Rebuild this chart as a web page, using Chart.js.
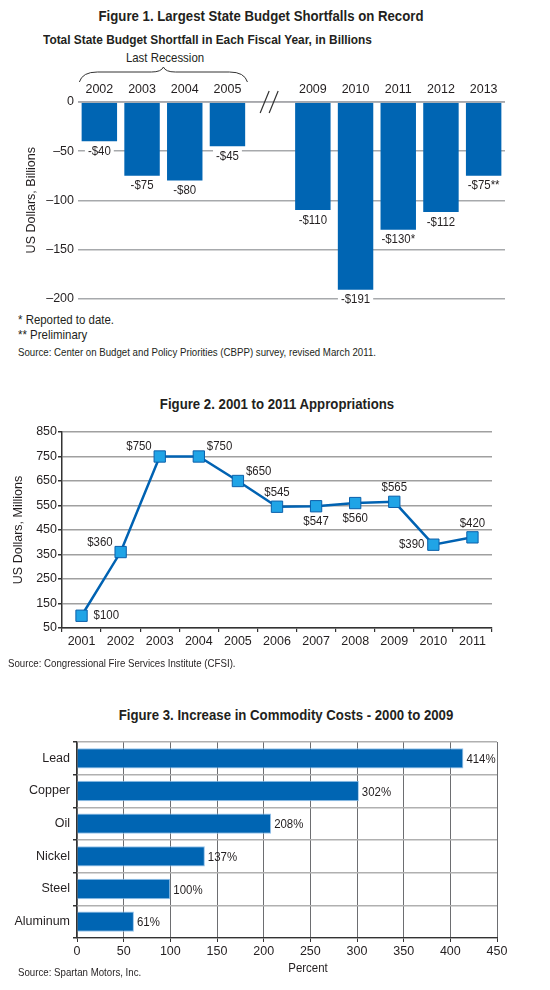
<!DOCTYPE html>
<html>
<head>
<meta charset="utf-8">
<script src="https://cdn.jsdelivr.net/npm/chart.js@4.4.1/dist/chart.umd.min.js"></script>
<style>
  body { margin: 0; background: #fff; }
  #page { position: relative; width: 550px; height: 990px; overflow: hidden;
          font-family: 'Liberation Sans Narrow', 'Liberation Sans', Arial, sans-serif; color: #231f20; }
  canvas { position: absolute; left: 0; }
  .t { position: absolute; white-space: nowrap; line-height: 20px; height: 20px;
       transform: scaleX(0.88); transform-origin: left center; }
  .b { font-weight: bold; }
  .c { transform: translateX(-50%) scaleX(0.88); transform-origin: center center; }
</style>
</head>
<body>
<div id="page">
  <div class="t b c" style="left:261px; top:6px; font-size:15px;">Figure 1. Largest State Budget Shortfalls on Record</div>
  <div class="t b" style="left:43px; top:30px; font-size:13.5px;">Total State Budget Shortfall in Each Fiscal Year, in Billions</div>
  <div class="t c" style="left:165px; top:48px; font-size:13px;">Last Recession</div>
  <canvas id="fig1" width="550" height="310" style="top:0px"></canvas>
  <div class="t" style="left:18px; top:310px; font-size:13px;">* Reported to date.</div>
  <div class="t" style="left:18px; top:325px; font-size:13px;">** Preliminary</div>
  <div class="t" style="left:18px; top:342px; font-size:11px;">Source: Center on Budget and Policy Priorities (CBPP) survey, revised March 2011.</div>

  <div class="t b c" style="left:277px; top:394px; font-size:15px;">Figure 2. 2001 to 2011 Appropriations</div>
  <canvas id="fig2" width="550" height="240" style="top:415px"></canvas>
  <div class="t" style="left:8px; top:653px; font-size:11px;">Source: Congressional Fire Services Institute (CFSI).</div>

  <div class="t b c" style="left:286px; top:705px; font-size:15px;">Figure 3. Increase in Commodity Costs - 2000 to 2009</div>
  <canvas id="fig3" width="550" height="260" style="top:730px"></canvas>
  <div class="t c" style="left:308px; top:958px; font-size:13px;">Percent</div>
  <div class="t" style="left:18px; top:962px; font-size:11px;">Source: Spartan Motors, Inc.</div>
</div>
<script>
const FONT = "'Liberation Sans Narrow', 'Liberation Sans', Arial, sans-serif";
const BLUE = 'rgb(0, 101, 179)';
const INK = '#231f20';

// Figure 1 data
const fiscalYears = ['2002', '2003', '2004', '2005', '', '2009', '2010', '2011', '2012', '2013'];
const shortfalls = [-40, -75, -80, -45, null, -110, -191, -130, -112, -75];
const shortfallText = ['-$40', '-$75', '-$80', '-$45', '', '-$110', '-$191', '-$130*', '-$112', '-$75**'];
const shortfallTicks = [0, -50, -100, -150, -200];

// Figure 2 data
const apprYears = ['2001', '2002', '2003', '2004', '2005', '2006', '2007', '2008', '2009', '2010', '2011'];
const appropriations = [100, 360, 750, 750, 650, 545, 547, 560, 565, 390, 420];
const apprTicks = [50, 150, 250, 350, 450, 550, 650, 750, 850];
const apprLabelSide = ['right', 'upleft', 'upleft', 'upright', 'upright', 'up', 'down', 'down', 'up', 'left', 'up'];

// Figure 3 data
const commodities = ['Lead', 'Copper', 'Oil', 'Nickel', 'Steel', 'Aluminum'];
const costIncrease = [414, 302, 208, 137, 100, 61];
const percentTicks = [0, 50, 100, 150, 200, 250, 300, 350, 400, 450];

Chart.defaults.font.family = FONT;
Chart.defaults.font.size = 12;
Chart.defaults.color = INK;
Chart.defaults.animation = false;
Chart.defaults.plugins.legend.display = false;
Chart.defaults.plugins.tooltip.enabled = false;

// draw text squeezed horizontally, like the condensed face of the original
function narrowText(ctx, text, x, y, align) {
  const k = 0.88;
  ctx.save();
  ctx.translate(x, y);
  ctx.scale(k, 1);
  ctx.textAlign = align;
  ctx.fillText(text, 0, 0);
  ctx.restore();
}

// ---------- Figure 1 ----------
const fig1Extras = {
  id: 'fig1Extras',
  afterDatasetsDraw(chart) {
    const {ctx, scales: {x, y}} = chart;
    ctx.save();
    // zero line on top of bars
    ctx.strokeStyle = '#a7a9ac';
    ctx.lineWidth = 1.5;
    ctx.beginPath();
    ctx.moveTo(chart.chartArea.left, y.getPixelForValue(0));
    ctx.lineTo(chart.chartArea.right, y.getPixelForValue(0));
    ctx.stroke();

    // value labels under bars
    ctx.font = '13px ' + FONT;
    ctx.textBaseline = 'middle';
    chart.getDatasetMeta(0).data.forEach((bar, i) => {
      const t = shortfallText[i];
      if (!t) return;
      const ly = bar.y + 10;
      const w = ctx.measureText(t).width * 0.88;
      ctx.fillStyle = '#fff';
      ctx.fillRect(bar.x - w / 2 - 3, ly - 7, w + 6, 14);
      ctx.fillStyle = INK;
      narrowText(ctx, t, bar.x, ly, 'center');
    });

    // axis break marks in the empty slot
    const cx = x.getPixelForValue(4);
    const zy = y.getPixelForValue(0);
    ctx.strokeStyle = '#333';
    ctx.lineWidth = 1.2;
    ctx.beginPath();
    ctx.moveTo(cx - 10, zy + 11); ctx.lineTo(cx - 1, zy - 11);
    ctx.moveTo(cx - 1, zy + 11); ctx.lineTo(cx + 8, zy - 11);
    ctx.stroke();

    // brace over "Last Recession"
    const L = x.getPixelForValue(0) - 20;
    const R = x.getPixelForValue(3) + 20;
    const M = (L + R) / 2;
    const yb = 82, yt = 72, yp = 67;
    ctx.strokeStyle = '#333';
    ctx.lineWidth = 1;
    ctx.beginPath();
    ctx.moveTo(L, yb);
    ctx.quadraticCurveTo(L + 3, yt, L + 18, yt);
    ctx.lineTo(M - 12, yt);
    ctx.quadraticCurveTo(M - 2, yt, M, yp);
    ctx.quadraticCurveTo(M + 2, yt, M + 12, yt);
    ctx.lineTo(R - 18, yt);
    ctx.quadraticCurveTo(R - 3, yt, R, yb);
    ctx.stroke();
    ctx.restore();
  }
};

new Chart(document.getElementById('fig1'), {
  type: 'bar',
  data: {
    labels: fiscalYears,
    datasets: [{
      data: shortfalls,
      backgroundColor: BLUE,
      categoryPercentage: 1,
      barPercentage: 0.83
    }]
  },
  options: {
    responsive: false,
    layout: { padding: { left: 0, right: 45, top: 0, bottom: 11 } },
    scales: {
      x: {
        position: 'top',
        grid: { display: false, drawTicks: false },
        border: { display: false },
        ticks: { font: { size: 12.5 }, padding: 5 },
        afterFit(s) { s.height = 102; }
      },
      y: {
        min: -200,
        max: 0,
        afterBuildTicks(s) { s.ticks = shortfallTicks.map(v => ({ value: v })); },
        ticks: { padding: 4, font: { size: 12.5 }, callback: v => (v < 0 ? '\u2013' + Math.abs(v) : String(v)) },
        grid: { color: '#a7a9ac', lineWidth: 1.5, drawTicks: false },
        border: { display: false },
        title: { display: true, text: 'US Dollars, Billions', font: { size: 12.5 }, padding: { top: 24, bottom: 0 } },
        afterFit(s) { s.width = 78; }
      }
    }
  },
  plugins: [fig1Extras]
});

// ---------- Figure 2 ----------
const sideOffsets = {
  right:   [12, 0, 'left'],
  left:    [-9, 0, 'right'],
  up:      [0, -14, 'center'],
  down:    [0, 15, 'center'],
  upleft:  [-8, -10, 'right'],
  upright: [8, -10, 'left']
};

const fig2Labels = {
  id: 'fig2Labels',
  afterDatasetsDraw(chart) {
    const {ctx} = chart;
    ctx.save();
    ctx.font = '13px ' + FONT;
    ctx.fillStyle = INK;
    ctx.textBaseline = 'middle';
    chart.getDatasetMeta(0).data.forEach((pt, i) => {
      const [dx, dy, align] = sideOffsets[apprLabelSide[i]];
      narrowText(ctx, '$' + appropriations[i], pt.x + dx, pt.y + dy, align);
    });
    ctx.restore();
  }
};

new Chart(document.getElementById('fig2'), {
  type: 'line',
  data: {
    labels: apprYears,
    datasets: [{
      data: appropriations,
      borderColor: 'rgb(0, 98, 178)',
      borderWidth: 2.5,
      pointStyle: 'rect',
      pointRadius: 8,
      pointBackgroundColor: 'rgb(32, 164, 230)',
      pointBorderColor: 'rgb(10, 95, 170)',
      pointBorderWidth: 1,
      tension: 0
    }]
  },
  options: {
    responsive: false,
    layout: { padding: { left: 0, right: 58, top: 17, bottom: 0 } },
    scales: {
      x: {
        offset: true,
        grid: { offset: true, drawOnChartArea: false, tickLength: 4, tickColor: '#333', lineWidth: 1.2 },
        border: { color: '#333', width: 1.5 },
        ticks: { font: { size: 12.5 }, padding: 2, maxRotation: 0, autoSkip: false },
        afterFit(s) { s.height = 27; }
      },
      y: {
        min: 50,
        max: 850,
        afterBuildTicks(s) { s.ticks = apprTicks.map(v => ({ value: v })); },
        ticks: { font: { size: 12.5 }, padding: 1 },
        grid: { color: '#a0a0a0', lineWidth: 1.5, tickLength: 4, tickColor: '#333' },
        border: { color: '#333', width: 1.5 },
        title: { display: true, text: 'US Dollars, Millions', font: { size: 12.5 }, padding: { top: 11, bottom: 0 } },
        afterFit(s) { s.width = 62; }
      }
    }
  },
  plugins: [fig2Labels]
});

// ---------- Figure 3 ----------
const fig3Labels = {
  id: 'fig3Labels',
  afterDatasetsDraw(chart) {
    const {ctx} = chart;
    ctx.save();
    ctx.font = '13px ' + FONT;
    ctx.fillStyle = INK;
    ctx.textBaseline = 'middle';
    chart.getDatasetMeta(0).data.forEach((bar, i) => {
      narrowText(ctx, costIncrease[i] + '%', bar.x + 3, bar.y + 1, 'left');
    });
    ctx.restore();
  }
};

new Chart(document.getElementById('fig3'), {
  type: 'bar',
  data: {
    labels: commodities,
    datasets: [{
      data: costIncrease,
      backgroundColor: BLUE,
      borderColor: 'rgb(150, 195, 235)',
      borderWidth: 1,
      categoryPercentage: 1,
      barPercentage: 0.62
    }]
  },
  options: {
    responsive: false,
    indexAxis: 'y',
    layout: { padding: { left: 0, right: 53, top: 12, bottom: 0 } },
    scales: {
      x: {
        min: 0,
        max: 450,
        afterBuildTicks(s) { s.ticks = percentTicks.map(v => ({ value: v })); },
        grid: { color: '#6d6e71', lineWidth: 1, tickLength: 4, tickColor: '#333' },
        border: { color: '#333', width: 1.2 },
        ticks: { font: { size: 12.5 }, padding: 2 },
        afterFit(s) { s.height = 52; }
      },
      y: {
        grid: { offset: true, color: '#b0b0b0', lineWidth: 1.5, tickLength: 4, tickColor: '#333' },
        border: { color: '#333', width: 1.2 },
        ticks: { font: { size: 12.5 }, padding: 3, autoSkip: false },
        afterFit(s) { s.width = 77; }
      }
    }
  },
  plugins: [fig3Labels]
});
</script>
</body>
</html>
